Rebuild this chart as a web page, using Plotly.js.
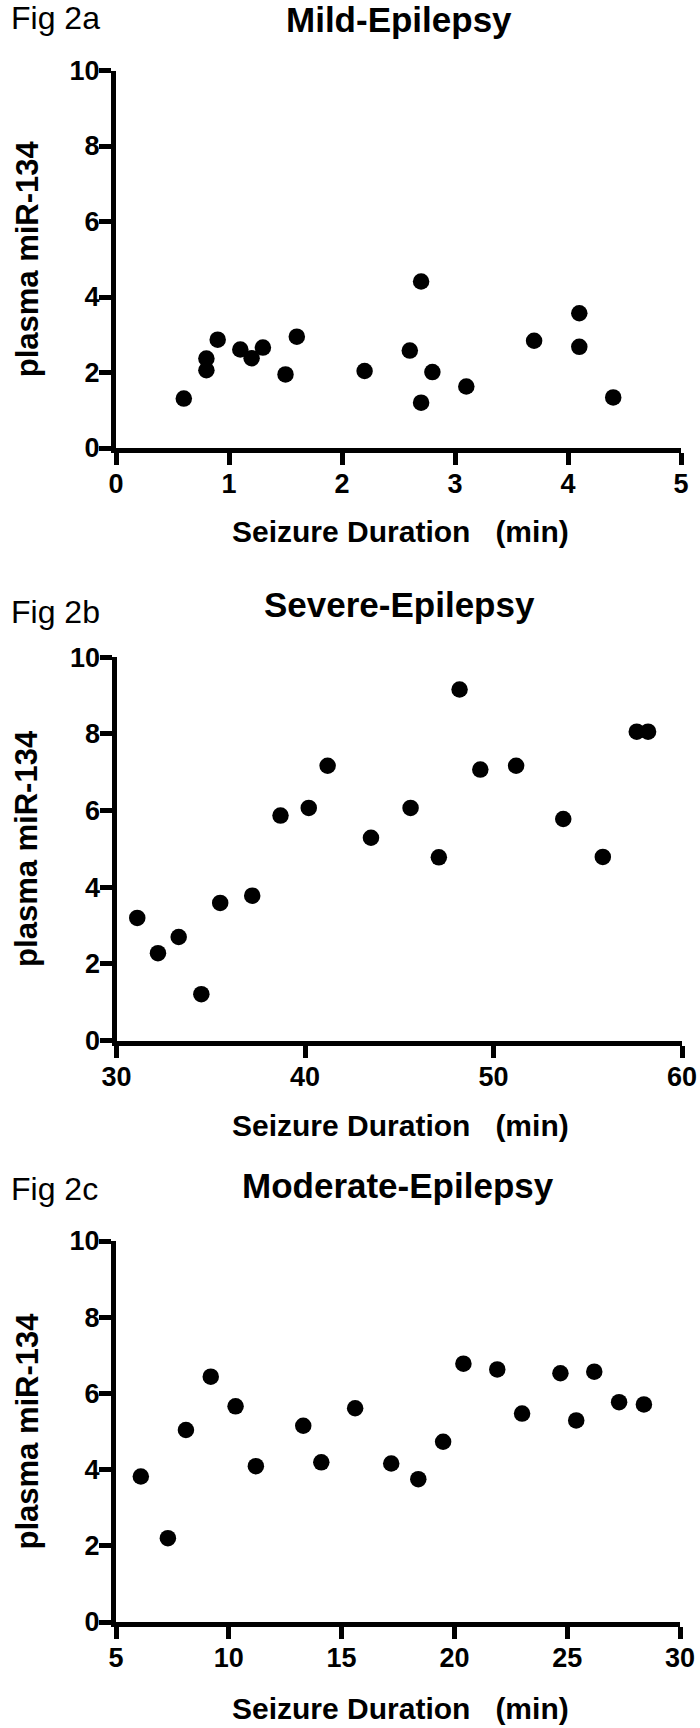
<!DOCTYPE html>
<html>
<head>
<meta charset="utf-8">
<script src="https://cdn.plot.ly/plotly-3.0.1.min.js"></script>
<style>
  html, body { margin: 0; padding: 0; background: #ffffff; }
  #chart { width: 700px; height: 1728px; }
</style>
</head>
<body>
<div id="chart"></div>
<script>
// ---- Data ----
const panelTitles = ["Mild-Epilepsy", "Severe-Epilepsy", "Moderate-Epilepsy"];
const figLabels = ["Fig 2a", "Fig 2b", "Fig 2c"];
const xAxisTitle = "Seizure Duration   (min)";
const yAxisTitle = "plasma miR-134";

const mildX = [0.6, 0.8, 0.8, 0.9, 1.1, 1.2, 1.3, 1.5, 1.6, 2.2, 2.6, 2.7, 2.7, 2.8, 3.1, 3.7, 4.1, 4.1, 4.4];
const mildY = [1.31, 2.37, 2.06, 2.87, 2.61, 2.38, 2.66, 1.95, 2.95, 2.04, 2.58, 4.41, 1.20, 2.01, 1.63, 2.84, 3.57, 2.68, 1.34];

const severeX = [31.1, 32.2, 33.3, 34.5, 35.5, 37.2, 38.7, 40.2, 41.2, 43.5, 45.6, 47.1, 48.2, 49.3, 51.2, 53.7, 55.8, 57.6, 58.2];
const severeY = [3.20, 2.28, 2.70, 1.21, 3.59, 3.78, 5.87, 6.07, 7.17, 5.29, 6.07, 4.78, 9.16, 7.07, 7.17, 5.78, 4.79, 8.06, 8.06];

const moderateX = [6.1, 7.3, 8.1, 9.2, 10.3, 11.2, 13.3, 14.1, 15.6, 17.2, 18.4, 19.5, 20.4, 21.9, 23.0, 24.7, 25.4, 26.2, 27.3, 28.4];
const moderateY = [3.82, 2.20, 5.04, 6.44, 5.66, 4.09, 5.15, 4.19, 5.61, 4.16, 3.75, 4.73, 6.78, 6.63, 5.47, 6.53, 5.29, 6.57, 5.77, 5.71];

const mildXTicks = [0, 1, 2, 3, 4, 5];
const severeXTicks = [30, 40, 50, 60];
const moderateXTicks = [5, 10, 15, 20, 25, 30];
const yTicks = [0, 2, 4, 6, 8, 10];

// ---- Layout helpers (pixel geometry of the 700x1728 page) ----
const W = 700, H = 1728;
const FONT = "Liberation Sans, Arial, Helvetica, sans-serif";
const px = v => v / W;
const py = v => 1 - v / H;

const panels = [
  { xs: mildX, ys: mildY, ticks: mildXTicks, range: [0, 5],
    left: 116, right: 681, top: 70.5, bottom: 448,
    titleY: 20, figY: 18.5, xTitleY: 531 },
  { xs: severeX, ys: severeY, ticks: severeXTicks, range: [30, 60],
    left: 116.5, right: 682, top: 657.3, bottom: 1040.5,
    titleY: 605, figY: 611.7, xTitleY: 1125 },
  { xs: moderateX, ys: moderateY, ticks: moderateXTicks, range: [5, 30],
    left: 116, right: 680, top: 1241, bottom: 1622,
    titleY: 1185, figY: 1188.5, xTitleY: 1708 }
];

const axisStyle = {
  showline: true, linewidth: 5, linecolor: "#000000",
  ticks: "outside", ticklen: 12, tickwidth: 5, tickcolor: "#000000",
  showgrid: false, zeroline: false, fixedrange: true,
  tickfont: { family: FONT, size: 27, color: "#000000", weight: "bold" }
};

const data = [];
const layout = {
  width: W, height: H,
  margin: { l: 0, r: 0, t: 0, b: 0 },
  paper_bgcolor: "#ffffff", plot_bgcolor: "#ffffff",
  showlegend: false,
  annotations: []
};

panels.forEach((p, i) => {
  const n = i === 0 ? "" : String(i + 1);
  data.push({
    type: "scatter", mode: "markers",
    x: p.xs, y: p.ys,
    xaxis: "x" + n, yaxis: "y" + n,
    marker: { color: "#000000", size: 16.5, line: { width: 0 } },
    cliponaxis: false,
    hoverinfo: "skip"
  });
  layout["xaxis" + n] = Object.assign({}, axisStyle, {
    domain: [px(p.left), px(p.right)],
    anchor: "y" + n,
    range: p.range, tickvals: p.ticks, ticktext: p.ticks.map(String),
    ticklabelstandoff: -4
  });
  layout["yaxis" + n] = Object.assign({}, axisStyle, {
    domain: [py(p.bottom), py(p.top)],
    anchor: "x" + n,
    range: [0, 10], tickvals: yTicks, ticktext: yTicks.map(String),
    ticklabelstandoff: -6
  });
  const cx = (p.left + p.right) / 2;
  const cy = (p.top + p.bottom) / 2;
  layout.annotations.push(
    { text: panelTitles[i], xref: "paper", yref: "paper",
      x: px(cx), y: py(p.titleY), xanchor: "center", yanchor: "middle",
      showarrow: false, font: { family: FONT, size: 35, color: "#000000", weight: "bold" } },
    { text: figLabels[i], xref: "paper", yref: "paper",
      x: px(9), y: py(p.figY), xanchor: "left", yanchor: "middle",
      showarrow: false, font: { family: FONT, size: 32, color: "#000000" } },
    { text: xAxisTitle, xref: "paper", yref: "paper",
      x: px(400), y: py(p.xTitleY), xanchor: "center", yanchor: "middle",
      showarrow: false, font: { family: FONT, size: 30, color: "#000000", weight: "bold" } },
    { text: yAxisTitle, xref: "paper", yref: "paper", textangle: -90,
      x: px(27), y: py(cy), xanchor: "center", yanchor: "middle",
      showarrow: false, font: { family: FONT, size: 31, color: "#000000", weight: "bold" } }
  );
});

Plotly.newPlot("chart", data, layout, { staticPlot: true, displayModeBar: false });
</script>
</body>
</html>
